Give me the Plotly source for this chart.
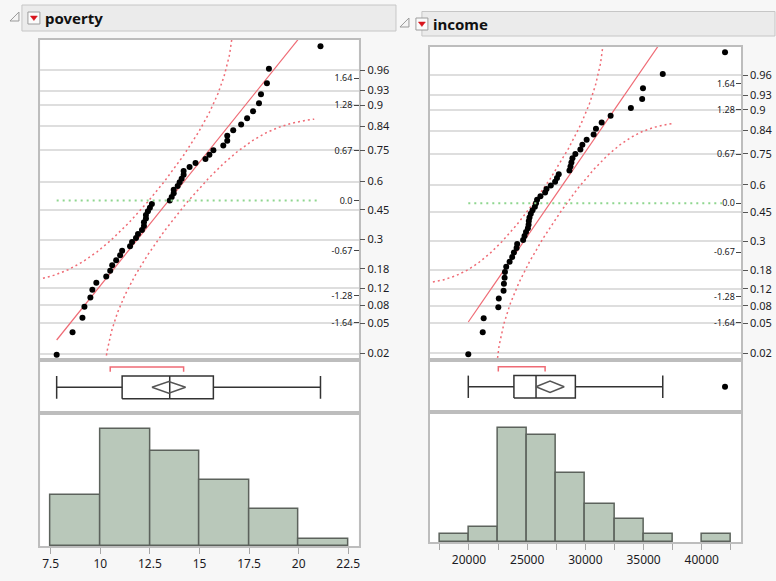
import numpy as np
import plotly.graph_objects as go
from statistics import NormalDist

# ---- data -------------------------------------------------------------
poverty = [7.8, 8.6, 9.1, 9.2, 9.5, 9.6, 9.8, 10.3, 10.5, 10.6, 10.8, 11.0, 11.1,
           11.5, 11.6, 11.8, 11.9, 12.1, 12.2, 12.2, 12.3, 12.3, 12.4, 12.5, 12.6,
           13.5, 13.6, 13.7, 13.7, 13.9, 14.0, 14.1, 14.2, 14.2, 14.5, 14.8, 15.3,
           15.5, 15.7, 16.2, 16.4, 16.4, 16.7, 17.1, 17.4, 17.7, 18.0, 18.1, 18.4,
           18.5, 21.1]

income = [19940, 21180, 21260, 22520, 22560, 22970, 23000, 23060, 23090, 23200,
          23490, 23710, 23860, 24090, 24140, 24650, 24770, 24900, 25060, 25120,
          25140, 25200, 25310, 25460, 25660, 25760, 25850, 26140, 26540, 26660,
          27030, 27400, 27560, 27710, 28630, 28720, 28800, 28890, 29140, 29570,
          29740, 30110, 30710, 30910, 31400, 32170, 33910, 34880, 34950, 36650,
          42000]

prob_ticks = [0.02, 0.05, 0.08, 0.12, 0.18, 0.3, 0.45, 0.6, 0.75, 0.84, 0.9, 0.93, 0.96]
prob_labels = ["0.02", "0.05", "0.08", "0.12", "0.18", "0.3", "0.45", "0.6",
               "0.75", "0.84", "0.9", "0.93", "0.96"]
z_ticks = [-1.64, -1.28, -0.67, 0.0, 0.67, 1.28, 1.64]
z_labels = ["-1.64", "-1.28", "-0.67", "0.0", "0.67", "1.28", "1.64"]

poverty_ticks = [7.5, 10, 12.5, 15, 17.5, 20, 22.5]
income_ticks = [20000, 25000, 30000, 35000, 40000]

# ---- page geometry (pixels) -------------------------------------------
W, H = 776, 581


def px(v):
    return v / W


def py(v):
    return 1 - v / H


panels = [
    dict(name="poverty", values=poverty, frame_x=(40.5, 359.5), xrange=(6.98, 23.02),
         q_y=(40, 360), zrange=(-2.141, 2.154), box_y=(360, 413),
         hist_y=(413, 546), hist_top=18.15, bins=(7.5, 22.5, 2.5),
         ticks=poverty_ticks, minor=None,
         header=dict(bar=(22, 397, 5, 31), tri=(10, 19, 12, 21),
                     btn=(28, 40, 12, 24), text_x=43, text_y=18)),
    dict(name="income", values=income, frame_x=(431, 743), xrange=(16640, 43380),
         q_y=(46.5, 360), zrange=(-2.148, 2.147), box_y=(360, 412),
         hist_y=(412, 542), hist_top=17.06, bins=(17500, 42500, 2500),
         ticks=income_ticks, minor=2500,
         header=dict(bar=(423, 777, 11.5, 36), tri=(401, 410, 18, 27),
                     btn=(417, 429, 18, 30), text_x=432, text_y=24)),
]

nd = NormalDist()
T975 = 2.0086          # Student t, 0.975, 50 df
LILLIEFORS_D = 0.13    # half-width of the confidence band in probability units
BAND_SPAN = 2.43       # band drawn over mean +/- BAND_SPAN * sd

FONT = "Noto Sans"
TEXT = "#1b1b24"
FRAME = "#bdbdbd"
GRID = "#dedede"
RED = "#ef6b75"
BOXLINE = "#333333"

fig = go.Figure()
layout = {}
shapes = []
annotations = []


def aname(kind, n):
    return f"{kind}axis" if n == 1 else f"{kind}axis{n}"


def ref(kind, n):
    return kind if n == 1 else f"{kind}{n}"


for k, p in enumerate(panels):
    data = np.sort(np.asarray(p["values"], dtype=float))
    n = len(data)
    mean = data.mean()
    sd = data.std(ddof=1)

    xh, xq, xb = 3 * k + 1, 3 * k + 2, 3 * k + 3
    yh, yq, yz, yb = 4 * k + 1, 4 * k + 2, 4 * k + 3, 4 * k + 4
    dom_x = [px(p["frame_x"][0]), px(p["frame_x"][1])]
    frame = dict(showline=True, mirror=True, linecolor=FRAME, linewidth=1.5,
                 zeroline=False, showgrid=False)

    # ---- histogram ----
    b0, b1, bs = p["bins"]
    fig.add_trace(go.Histogram(
        x=data, xbins=dict(start=b0, end=b1, size=bs), autobinx=False,
        marker=dict(color="#b9c8ba", line=dict(color="#5c625c", width=1.5)),
        xaxis=ref("x", xh), yaxis=ref("y", yh), showlegend=False, hoverinfo="skip"))

    xh_ax = dict(domain=dom_x, range=list(p["xrange"]), anchor=ref("y", yh),
                 tickvals=p["ticks"], ticks="outside", ticklen=6, tickcolor="#a8a8a8",
                 tickfont=dict(family=FONT, size=12, color=TEXT), **frame)
    if p["minor"]:
        xh_ax["tickformat"] = "d"
        xh_ax["minor"] = dict(tick0=b0, dtick=p["minor"], ticks="outside",
                              ticklen=6, tickcolor="#a8a8a8")
    layout[aname("x", xh)] = xh_ax
    layout[aname("y", yh)] = dict(domain=[py(p["hist_y"][1]), py(p["hist_y"][0])],
                                  range=[0, p["hist_top"]], anchor=ref("x", xh),
                                  showticklabels=False, ticks="", **frame)

    # ---- normal quantile plot ----
    zq = np.array([nd.inv_cdf(i / (n + 1)) for i in range(1, n + 1)])

    # confidence band (Lilliefors style)
    xs = np.linspace(mean - BAND_SPAN * sd, mean + BAND_SPAN * sd, 500)
    cdf = np.array([nd.cdf(v) for v in (xs - mean) / sd])
    pu = cdf + LILLIEFORS_D
    pl = cdf - LILLIEFORS_D
    mu = pu < 0.99995
    ml = pl > 0.00005
    fig.add_trace(go.Scatter(
        x=xs[mu], y=[nd.inv_cdf(v) for v in pu[mu]], mode="lines",
        line=dict(color=RED, width=1.5, dash="2px,3px"),
        xaxis=ref("x", xq), yaxis=ref("y", yq), showlegend=False, hoverinfo="skip"))
    fig.add_trace(go.Scatter(
        x=xs[ml], y=[nd.inv_cdf(v) for v in pl[ml]], mode="lines",
        line=dict(color=RED, width=1.5, dash="2px,3px"),
        xaxis=ref("x", xq), yaxis=ref("y", yq), showlegend=False, hoverinfo="skip"))

    # fitted normal line
    lx = np.array([data.min(), data.max()])
    fig.add_trace(go.Scatter(
        x=lx, y=(lx - mean) / sd, mode="lines", line=dict(color=RED, width=1.2),
        xaxis=ref("x", xq), yaxis=ref("y", yq), showlegend=False, hoverinfo="skip"))

    # zero reference line
    fig.add_trace(go.Scatter(
        x=lx, y=[0, 0], mode="lines",
        line=dict(color="#8fd68f", width=2, dash="2px,4px"),
        xaxis=ref("x", xq), yaxis=ref("y", yz), showlegend=False, hoverinfo="skip"))

    # the points
    fig.add_trace(go.Scatter(
        x=data, y=zq, mode="markers", marker=dict(color="black", size=6),
        xaxis=ref("x", xq), yaxis=ref("y", yq), showlegend=False, hoverinfo="skip",
        cliponaxis=False))

    qdom = [py(p["q_y"][1]), py(p["q_y"][0])]
    layout[aname("x", xq)] = dict(domain=dom_x, range=list(p["xrange"]),
                                  anchor=ref("y", yq), showticklabels=False,
                                  ticks="", **frame)
    layout[aname("y", yq)] = dict(
        domain=qdom, range=list(p["zrange"]), anchor=ref("x", xq), side="right",
        tickvals=[nd.inv_cdf(v) for v in prob_ticks], ticktext=prob_labels,
        ticks="outside", ticklen=5, tickcolor="#555555",
        tickfont=dict(family=FONT, size=11, color=TEXT),
        showline=True, mirror=True, linecolor=FRAME, linewidth=1.5,
        zeroline=False, showgrid=True, gridcolor=GRID, gridwidth=1.5)
    layout[aname("y", yz)] = dict(
        overlaying=ref("y", yq), range=list(p["zrange"]), anchor=ref("x", xq),
        side="right", tickvals=z_ticks, ticktext=z_labels, ticks="inside",
        ticklen=5, tickcolor="#444444", ticklabelposition="inside",
        tickfont=dict(family=FONT, size=9, color=TEXT),
        showgrid=False, zeroline=False, showline=False)

    # ---- outlier box plot ----
    q1, med, q3 = np.quantile(data, [0.25, 0.5, 0.75], method="weibull")
    iqr = q3 - q1
    lo = data[data >= q1 - 1.5 * iqr].min()
    hi = data[data <= q3 + 1.5 * iqr].max()
    outl = data[(data < lo) | (data > hi)]
    half = T975 * sd / np.sqrt(n)
    h = int(np.ceil(n / 2))
    widths = data[h - 1:] - data[:n - h + 1]
    i0 = int(np.argmin(widths))
    sh0, sh1 = data[i0], data[i0 + h - 1]

    by0, by1, wy = 0.27, 0.70, 0.485
    bx, by = ref("x", xb), ref("y", yb)
    line_style = dict(color=BOXLINE, width=1.5)
    segs = [
        ([q1, q3, q3, q1, q1], [by0, by0, by1, by1, by0]),
        ([med, med], [by0, by1]),
        ([lo, q1], [wy, wy]),
        ([q3, hi], [wy, wy]),
        ([lo, lo], [by0, by1]),
        ([hi, hi], [by0, by1]),
    ]
    for sx, sy in segs:
        fig.add_trace(go.Scatter(x=sx, y=sy, mode="lines", line=line_style,
                                 xaxis=bx, yaxis=by, showlegend=False, hoverinfo="skip"))
    fig.add_trace(go.Scatter(
        x=[mean - half, mean, mean + half, mean, mean - half],
        y=[wy, wy + 0.11, wy, wy - 0.11, wy], mode="lines",
        line=dict(color="#555555", width=1.5),
        xaxis=bx, yaxis=by, showlegend=False, hoverinfo="skip"))
    fig.add_trace(go.Scatter(
        x=[sh0, sh0, sh1, sh1], y=[0.78, 0.87, 0.87, 0.78], mode="lines",
        line=dict(color=RED, width=1.5),
        xaxis=bx, yaxis=by, showlegend=False, hoverinfo="skip"))
    if len(outl):
        fig.add_trace(go.Scatter(
            x=outl, y=[wy] * len(outl), mode="markers",
            marker=dict(color="black", size=6),
            xaxis=bx, yaxis=by, showlegend=False, hoverinfo="skip"))

    layout[aname("x", xb)] = dict(domain=dom_x, range=list(p["xrange"]), anchor=by,
                                  showticklabels=False, ticks="", **frame)
    layout[aname("y", yb)] = dict(domain=[py(p["box_y"][1]), py(p["box_y"][0])],
                                  range=[0, 1], anchor=bx, showticklabels=False,
                                  ticks="", **frame)

    # ---- title bar ----
    hd = p["header"]
    x0, x1, y0, y1 = hd["bar"]
    shapes.append(dict(type="rect", xref="paper", yref="paper",
                       x0=px(x0), x1=px(x1), y0=py(y1), y1=py(y0),
                       fillcolor="#ebebeb", line=dict(color="#c6c6c6", width=1)))
    tx0, tx1, ty0, ty1 = hd["tri"]
    shapes.append(dict(type="path", xref="paper", yref="paper",
                       path=f"M {px(tx0)} {py(ty1)} L {px(tx1)} {py(ty1)} "
                            f"L {px(tx1)} {py(ty0)} Z",
                       fillcolor="#f4f4f4", line=dict(color="#9a9a9a", width=1)))
    bx0, bx1, bby0, bby1 = hd["btn"]
    shapes.append(dict(type="rect", xref="paper", yref="paper",
                       x0=px(bx0), x1=px(bx1), y0=py(bby1), y1=py(bby0),
                       fillcolor="#fbfbfb", line=dict(color="#9c9c9c", width=1)))
    cx = (bx0 + bx1) / 2
    cy = (bby0 + bby1) / 2
    shapes.append(dict(type="path", xref="paper", yref="paper",
                       path=f"M {px(cx - 3.5)} {py(cy - 2)} L {px(cx + 3.5)} {py(cy - 2)} "
                            f"L {px(cx)} {py(cy + 2.5)} Z",
                       fillcolor="#d8141c", line=dict(color="#d8141c", width=0.5)))
    annotations.append(dict(xref="paper", yref="paper", x=px(hd["text_x"]),
                            y=py(hd["text_y"]), xanchor="left", yanchor="middle",
                            text=p["name"], showarrow=False,
                            font=dict(family=FONT, size=15, color="#111111",
                                      weight="bold")))

fig.update_layout(
    width=W, height=H, autosize=False,
    margin=dict(l=0, r=0, t=0, b=0, pad=0),
    paper_bgcolor="#f7f7f7", plot_bgcolor="white",
    shapes=shapes, annotations=annotations,
    font=dict(family=FONT, color=TEXT),
    showlegend=False,
    bargap=0,
    **layout,
)

fig.write_html("out.html")
